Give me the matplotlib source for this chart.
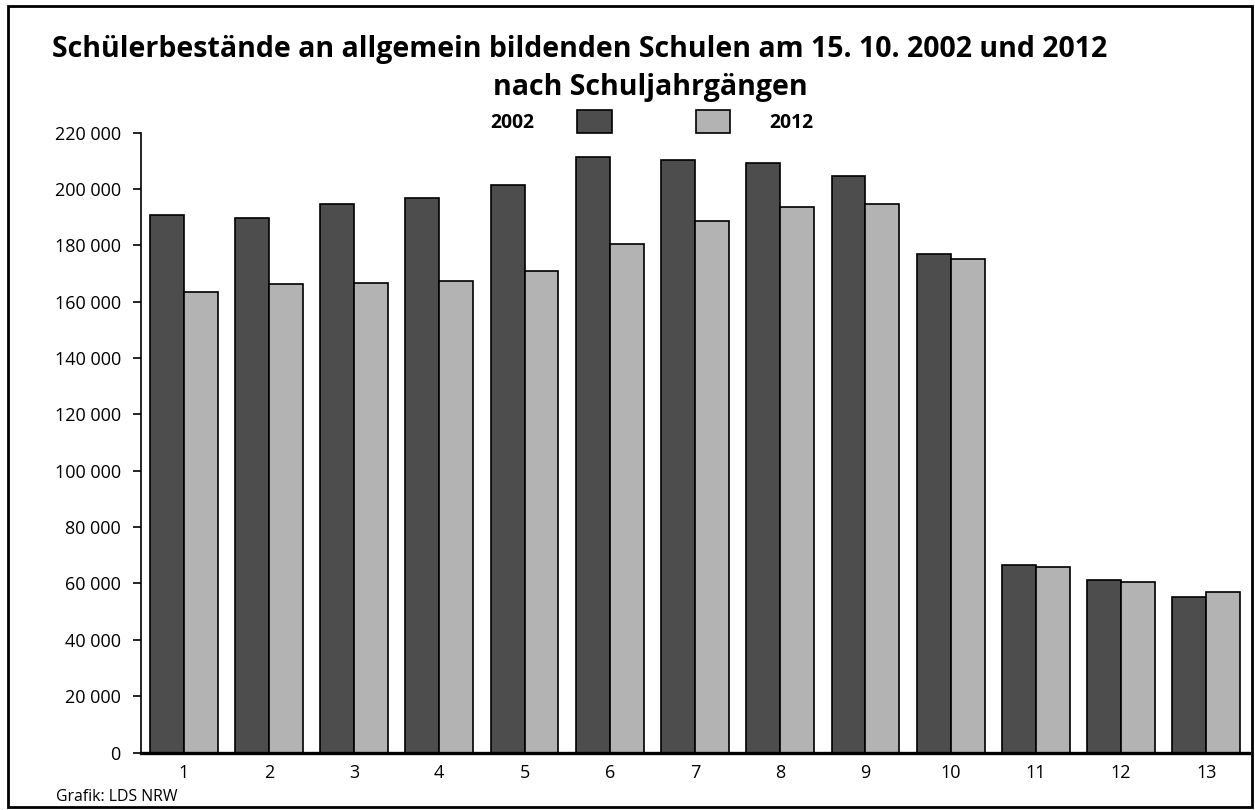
import matplotlib
matplotlib.use("Agg")
import matplotlib.pyplot as plt
import numpy as np
from matplotlib.patches import Rectangle

categories = ["1", "2", "3", "4", "5", "6", "7", "8", "9", "10", "11", "12", "13"]
values_2002 = [190700, 189700, 194800, 196900, 201300, 211500, 210400, 209400, 204500, 176800, 66500, 61400, 55200]
values_2012 = [163600, 166200, 166600, 167200, 171000, 180500, 188800, 193600, 194700, 175100, 65900, 60500, 57000]
yticks = list(range(0, 220001, 20000))
ytick_labels = ["0" if v == 0 else f"{v // 1000} 000" for v in yticks]
series_labels = ["2002", "2012"]
title_line1 = "Schülerbestände an allgemein bildenden Schulen am 15. 10. 2002 und 2012"
title_line2 = "nach Schuljahrgängen"
source_text = "Grafik: LDS NRW"

plt.rcParams['font.family'] = ['Open Sans', 'DejaVu Sans']

W, H = 1255, 810
fig = plt.figure(figsize=(W / 100, H / 100), dpi=100)
renderer = fig.canvas.get_renderer()


def fit_text(t, target_px):
    """Scale a text's font size so its rendered width matches target_px."""
    w = t.get_window_extent(renderer).width
    t.set_fontsize(t.get_fontsize() * target_px / w)


ax = fig.add_axes([141 / W, 1 - 752.5 / H, (1249 - 141) / W, (752.5 - 132.7) / H])

x = np.arange(len(categories))
bw = 0.398
dark = "#4d4d4d"
light = "#b3b3b3"
ax.bar(x - bw / 2, values_2002, width=bw, color=dark, edgecolor="black", linewidth=1.2)
ax.bar(x + bw / 2, values_2012, width=bw, color=light, edgecolor="black", linewidth=1.2)

ax.set_xlim(-0.5, 12.5)
ax.set_ylim(0, 220000)
ax.set_yticks(yticks)
ax.set_yticklabels(ytick_labels, fontsize=13)
ax.set_xticks(x)
ax.set_xticklabels(categories, fontsize=13)
ax.tick_params(axis="x", length=0, pad=8)
ax.tick_params(axis="y", length=6, width=1.2, pad=8.5, direction="out")
for s in ["top", "right"]:
    ax.spines[s].set_visible(False)
ax.spines["left"].set_linewidth(1.2)
ax.spines["bottom"].set_linewidth(2.4)
ax.spines["left"].set_zorder(3)

# Fit tick label size to the reference width of "220 000" (~66 px)
fig.canvas.draw()
lab = ax.get_yticklabels()[-1]
w = lab.get_window_extent(renderer).width
tick_fs = 13 * 66 / w
ax.tick_params(axis="both", labelsize=tick_fs)

# Title
t1 = fig.text(580 / W, 1 - 57 / H, title_line1, ha="center", va="baseline",
              fontsize=20, fontweight="bold")
fit_text(t1, 1054)
t2 = fig.text(650 / W, 1 - 95 / H, title_line2, ha="center", va="baseline",
              fontsize=t1.get_fontsize(), fontweight="bold")

# Legend
l1 = fig.text(512 / W, 1 - 122.7 / H, series_labels[0], ha="center", va="center",
              fontsize=13.5, fontweight="bold")
fit_text(l1, 44)
fig.patches.append(Rectangle((577 / W, 1 - 132.7 / H), 35 / W, 22.7 / H, transform=fig.transFigure,
                             facecolor=dark, edgecolor="black", linewidth=1.2))
fig.patches.append(Rectangle((696 / W, 1 - 132.7 / H), 34 / W, 22.7 / H, transform=fig.transFigure,
                             facecolor=light, edgecolor="black", linewidth=1.2))
fig.text(791 / W, 1 - 122.7 / H, series_labels[1], ha="center", va="center",
         fontsize=l1.get_fontsize(), fontweight="bold")

# Source
src = fig.text(56 / W, 1 - 797 / H, source_text, ha="left", va="center", fontsize=11)
fit_text(src, 122)

# Border
fig.patches.append(Rectangle((8 / W, 3 / H), (W - 11) / W, (H - 9) / H, transform=fig.transFigure,
                             facecolor="none", edgecolor="black", linewidth=2.0))

fig.savefig("out.png", dpi=100)
